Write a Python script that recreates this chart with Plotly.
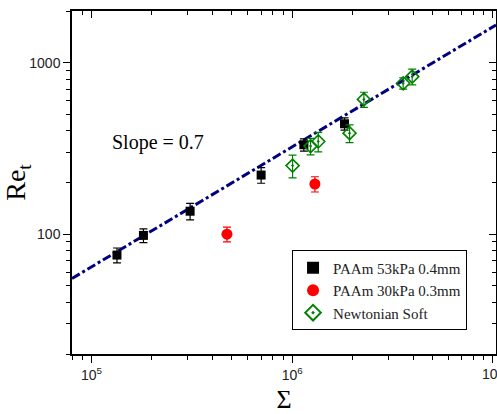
import numpy as np
import plotly.graph_objects as go

# ---- data ----
paam53_x = [1.34e5, 1.815e5, 3.10e5, 7.0e5, 1.143e6, 1.822e6]
paam53_y = [75.5, 98.3, 136, 221, 332, 440]
paam53_err = [7.5, 9, 15, 23, 27, 36]

paam30_x = [4.73e5, 1.297e6]
paam30_y = [100, 196]
paam30_err = [10, 20]

newt_x = [1.004e6, 1.234e6, 1.348e6, 1.93e6, 2.275e6, 3.57e6, 3.96e6]
newt_y = [251, 326, 347, 388, 610, 758, 829]
newt_err = [38, 36, 45, 46, 62, 58, 87]

slope = 0.7
log_prefactor = -1.691
x_range_log = [np.log10(8e4), 7.015]
y_range_log = [np.log10(20), np.log10(2000)]

x_major = [1e5, 1e6]
x_major_text = ["10<sup>5</sup>", "10<sup>6</sup>"]
x_edge_tick = 1e7
x_edge_text = "10<sup>7</sup>"
y_major = [100, 1000]
y_major_text = ["100", "1000"]

x_minor = [m * 10 ** e for e in range(4, 7) for m in range(2, 10)]
y_minor = [m * 10 ** e for e in range(1, 4) for m in range(2, 10)]

navy = "#00007F"
green = "#008000"

fit_x = np.logspace(x_range_log[0], x_range_log[1], 50)
fit_y = 10 ** log_prefactor * fit_x ** slope

fig = go.Figure()

fig.add_trace(go.Scatter(x=fit_x, y=fit_y, mode="lines",
                         line=dict(color=navy, width=3, dash="dashdot"),
                         showlegend=False, hoverinfo="skip"))

fig.add_trace(go.Scatter(x=paam53_x, y=paam53_y, mode="markers", name="PAAm 53kPa 0.4mm",
                         marker=dict(symbol="square", size=9, color="black"),
                         error_y=dict(type="data", array=paam53_err, color="black", thickness=1.2, width=4)))
fig.add_trace(go.Scatter(x=paam30_x, y=paam30_y, mode="markers", name="PAAm 30kPa 0.3mm",
                         marker=dict(symbol="circle", size=11, color="red"),
                         error_y=dict(type="data", array=paam30_err, color="red", thickness=1.2, width=4)))
fig.add_trace(go.Scatter(x=newt_x, y=newt_y, mode="markers", name="Newtonian Soft",
                         marker=dict(symbol="diamond-open-dot", size=10, color=green,
                                     line=dict(width=1.6, color=green)),
                         error_y=dict(type="data", array=newt_err, color=green, thickness=1.2, width=4)))

# invisible trace to activate mirrored axes
fig.add_trace(go.Scatter(x=[1e6], y=[100], xaxis="x2", yaxis="y2", mode="markers",
                         marker=dict(opacity=0), showlegend=False, hoverinfo="skip"))

tickfont = dict(family="Liberation Sans, Arial", size=14, color="#222")

fig.update_layout(
    width=497, height=414,
    margin=dict(l=72, r=1, t=11, b=60),
    plot_bgcolor="white", paper_bgcolor="white",
    showlegend=True,
    legend=dict(x=0.519, y=0.302, xanchor="left", yanchor="top",
                bordercolor="black", borderwidth=1, bgcolor="white",
                font=dict(family="Liberation Serif, Times New Roman", size=15, color="#222"),
                tracegroupgap=0, itemsizing="constant"),
    xaxis=dict(type="log", range=x_range_log, showgrid=False, zeroline=False,
               showline=True, linecolor="black", linewidth=1.5,
               ticks="outside", ticklen=7, tickwidth=1.2, tickcolor="black",
               tickvals=x_major + [x_edge_tick], ticktext=x_major_text + [""], tickfont=tickfont,
               minor=dict(tickvals=x_minor, ticks="outside", ticklen=4, tickwidth=1, tickcolor="black"),
               title=dict(text="Σ", font=dict(family="Liberation Serif, Times New Roman", size=26, color="black"),
                          standoff=12)),
    yaxis=dict(type="log", range=y_range_log, showgrid=False, zeroline=False,
               showline=True, linecolor="black", linewidth=1.5,
               ticks="outside", ticklen=7, tickwidth=1.2, tickcolor="black",
               tickvals=y_major, ticktext=y_major_text, tickfont=tickfont,
               minor=dict(tickvals=y_minor, ticks="outside", ticklen=4, tickwidth=1, tickcolor="black"),
               title=dict(text="Re<sub>t</sub>", font=dict(family="Liberation Serif, Times New Roman", size=28, color="black"),
                          standoff=0)),
    xaxis2=dict(type="log", range=x_range_log, overlaying="x", side="top", anchor="y2",
                showgrid=False, zeroline=False, showline=True, linecolor="black", linewidth=1.5,
                ticks="inside", ticklen=7, tickwidth=1.2, tickcolor="black",
                tickvals=x_major + [x_edge_tick], showticklabels=False,
                minor=dict(tickvals=x_minor, ticks="inside", ticklen=4, tickwidth=1, tickcolor="black")),
    yaxis2=dict(type="log", range=y_range_log, overlaying="y", side="right", anchor="x2",
                showgrid=False, zeroline=False, showline=True, linecolor="black", linewidth=1.5,
                ticks="inside", ticklen=7, tickwidth=1.2, tickcolor="black",
                tickvals=y_major, showticklabels=False,
                minor=dict(tickvals=y_minor, ticks="inside", ticklen=4, tickwidth=1, tickcolor="black")),
    annotations=[
        dict(x=np.log10(2.15e5), y=np.log10(340), xref="x", yref="y",
             text="Slope = 0.7", showarrow=False,
             font=dict(family="Liberation Serif, Times New Roman", size=20, color="black")),
        dict(x=np.log10(x_edge_tick), y=0, xref="x", yref="paper", yanchor="top", yshift=-8,
             text=x_edge_text, showarrow=False, font=tickfont),
    ],
)

fig.write_html("out.html")
